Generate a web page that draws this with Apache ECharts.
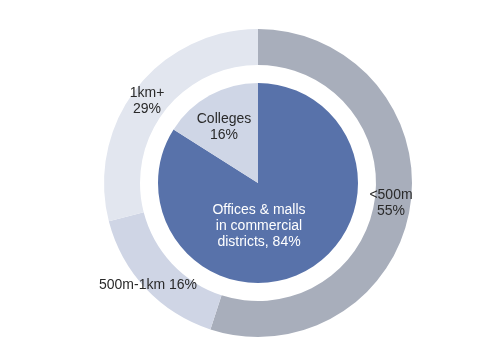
<!DOCTYPE html>
<html><head><meta charset="utf-8">
<script src="https://cdn.jsdelivr.net/npm/echarts@6/dist/echarts.min.js"></script>
<style>html,body{margin:0;padding:0;background:#fff}#c{width:478px;height:346px}</style>
</head><body><div id="c"></div>
<script>
// Data
const innerCategories = ['Offices & malls\nin commercial\ndistricts, 84%', 'Colleges\n16%'];
const innerValues = [84, 16];
const outerCategories = ['<500m\n55%', '500m-1km 16%', '1km+\n29%'];
const outerValues = [55, 16, 29];

// Styles
const innerColors = ['#5872aa', '#cfd6e6'];
const outerColors = ['#a8aebb', '#cfd5e5', '#e2e6ef'];
const innerLabelColors = ['#ffffff', '#2a2a2a'];
const innerLabelPos = [[259, 226], [224, 127]];
const outerLabelPos = [[391, 203], [148, 285], [147, 101]];

const chart = echarts.init(document.getElementById('c'));
const font = { fontFamily: 'Liberation Sans, Arial, sans-serif', fontSize: 14, lineHeight: 16 };
chart.setOption({
  animation: false,
  series: [
    {
      type: 'pie', center: [258, 183], radius: [0, 100], startAngle: 90, clockwise: true,
      silent: true,
      data: innerValues.map((v, i) => ({
        value: v, name: innerCategories[i],
        itemStyle: { color: innerColors[i] },
        label: { color: innerLabelColors[i] }
      })),
      label: Object.assign({ show: true, position: 'inside', formatter: '{b}', align: 'center' }, font),
      labelLine: { show: false },
      labelLayout: p => ({ x: innerLabelPos[p.dataIndex][0], y: innerLabelPos[p.dataIndex][1], align: 'center', verticalAlign: 'middle' })
    },
    {
      type: 'pie', center: [258, 183], radius: [118, 154], startAngle: 90, clockwise: true,
      silent: true,
      data: outerValues.map((v, i) => ({
        value: v, name: outerCategories[i],
        itemStyle: { color: outerColors[i] }
      })),
      label: Object.assign({ show: true, position: 'inside', formatter: '{b}', color: '#2a2a2a', align: 'center' }, font),
      labelLine: { show: false },
      labelLayout: p => ({ x: outerLabelPos[p.dataIndex][0], y: outerLabelPos[p.dataIndex][1], align: 'center', verticalAlign: 'middle' })
    }
  ]
});
</script></body></html>
